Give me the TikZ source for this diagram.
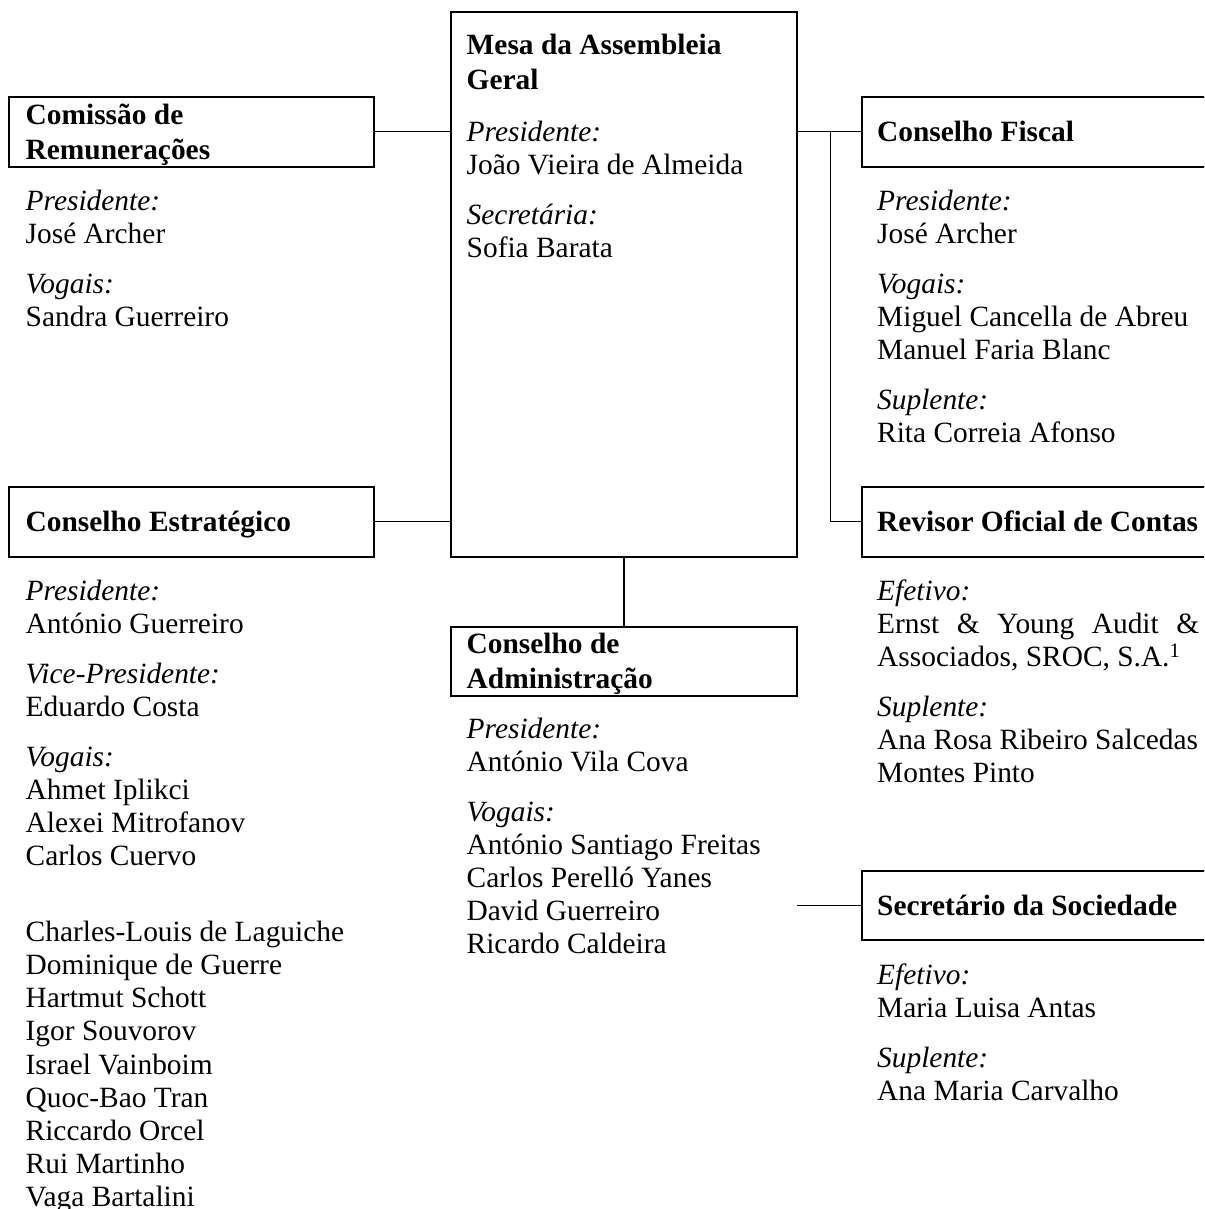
\documentclass[tikz,border=0pt]{standalone}
\usepackage{fontspec}
\setmainfont{Liberation Serif}
\newcommand\myfs{\fontsize{29.4}{33.15}\selectfont}
\newcommand\myhfs{\fontsize{29.4}{35}\selectfont}
\begin{document}
\begin{tikzpicture}[x=1pt,y=-1pt,
  box/.style={draw, line width=1.8pt, inner sep=0pt, outer sep=0pt, anchor=north west},
  conn/.style={line width=1.5pt},
  txt/.style={anchor=base west, inner sep=0pt, align=left, font=\myfs},
  head/.style={txt, font=\myhfs\bfseries}]
\clip (0,0) rectangle (1204,1209);
% boxes
\node[box, minimum width=364.7pt, minimum height=70pt] (com) at (9.3,96.7) {};
\node[box, minimum width=364.7pt, minimum height=70pt] (est) at (9.3,486.7) {};
\node[box, minimum width=346.6pt, minimum height=545pt] (mesa) at (450.7,11.7) {};
\node[box, minimum width=346.6pt, minimum height=68.7pt] (adm) at (450.7,627.3) {};
\node[box, minimum width=370pt, minimum height=70pt] (fis) at (861.7,96.7) {};
\node[box, minimum width=370pt, minimum height=70pt] (rev) at (861.7,486.7) {};
\node[box, minimum width=370pt, minimum height=69pt] (sec) at (861.7,871) {};
% connectors
\coordinate (jn) at (830.7,131.7);
\coordinate (secend) at (797.3,905.5);
\draw[conn] (com.east) -- (com.east -| mesa.west);
\draw[conn] (est.east) -- (est.east -| mesa.west);
\draw[conn] (fis.west -| mesa.east) -- (fis.west);
\draw[conn] (jn) |- (rev.west);
\draw[conn] (mesa.south) -- (adm.north);
\draw[conn] (secend) -- (secend -| sec.west);
% headings (anchor = baseline of last line)
\node[head] (comh) at (25.5,160) {Comissão de\\Remunerações};
\node[head] (mesah) at (466.5,90) {Mesa da Assembleia\\Geral};
\node[head] (fish) at (877,141.7) {Conselho Fiscal};
\node[head] (esth) at (25.5,531.7) {Conselho Estratégico};
\node[head] (revh) at (877,531.7) {Revisor Oficial de Contas};
\node[head] (admh) at (466.5,688) {Conselho de\\Administração};
\node[head] (sech) at (877,915) {Secretário da Sociedade};
% bodies (anchor = baseline of last line)
\node[txt] (comb) at (25.5,326.9) {\textit{Presidente:}\\José Archer\\[16.7pt]\textit{Vogais:}\\Sandra Guerreiro};
\node[txt] (mesab) at (466.5,257.5) {\textit{Presidente:}\\João Vieira de Almeida\\[16.7pt]\textit{Secretária:}\\Sofia Barata};
\node[txt] (fisb) at (877,442.5) {\textit{Presidente:}\\José Archer\\[16.7pt]\textit{Vogais:}\\Miguel Cancella de Abreu\\Manuel Faria Blanc\\[16.7pt]\textit{Suplente:}\\Rita Correia Afonso};
\node[txt] (estb) at (25.5,1206.7) {\textit{Presidente:}\\António Guerreiro\\[16.7pt]\textit{Vice-Presidente:}\\Eduardo Costa\\[16.7pt]\textit{Vogais:}\\Ahmet Iplikci\\Alexei Mitrofanov\\Carlos Cuervo\\[42.9pt]Charles-Louis de Laguiche\\Dominique de Guerre\\Hartmut Schott\\Igor Souvorov\\Israel Vainboim\\Quoc-Bao Tran\\Riccardo Orcel\\Rui Martinho\\Vaga Bartalini};
\node[txt] (revb) at (877,782.5) {\textit{Efetivo:}\\\makebox[322pt][s]{Ernst \& Young Audit \&}\\Associados, SROC, S.A.\textsuperscript{1}\\[16.7pt]\textit{Suplente:}\\Ana Rosa Ribeiro Salcedas\\Montes Pinto};
\node[txt] (admb) at (466.5,953.6) {\textit{Presidente:}\\António Vila Cova\\[16.7pt]\textit{Vogais:}\\António Santiago Freitas\\Carlos Perelló Yanes\\David Guerreiro\\Ricardo Caldeira};
\node[txt] (secb) at (877,1100.2) {\textit{Efetivo:}\\Maria Luisa Antas\\[16.7pt]\textit{Suplente:}\\Ana Maria Carvalho};
\end{tikzpicture}
\end{document}
